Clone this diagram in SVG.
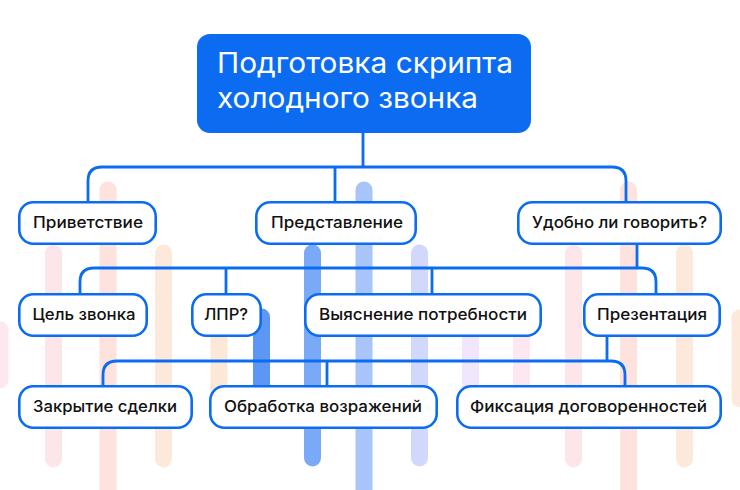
<svg xmlns="http://www.w3.org/2000/svg" width="740" height="490" viewBox="0 0 740 490">
  <style>
    .bar { stroke-width: 17; stroke-linecap: round; fill: none; }
    .box { fill: #ffffff; stroke: #0b6cf2; stroke-width: 2.6; }
    .lbl { font-family: Inter, "Liberation Sans", sans-serif; font-size: 16px; font-weight: 500; fill: #111111; text-anchor: middle; }
    .title { font-family: Inter, "Liberation Sans", sans-serif; font-size: 28px; fill: #ffffff; }
    .conn { fill: none; stroke: #0b6cf2; stroke-width: 2.8; }
  </style>
  <rect x="0" y="0" width="740" height="490" fill="#ffffff"/>
  <g id="background">
    <line class="bar" x1="0" y1="330" x2="0" y2="380" stroke="#fde7f0"/>
    <line class="bar" x1="53.5" y1="253" x2="53.5" y2="459" stroke="#fde6ea"/>
    <line class="bar" x1="108" y1="190" x2="108" y2="500" stroke="#fde2de"/>
    <line class="bar" x1="163.5" y1="253" x2="163.5" y2="459" stroke="#fde9dc"/>
    <line class="bar" x1="219" y1="310" x2="219" y2="415" stroke="#fde8d8"/>
    <line class="bar" x1="261.5" y1="317" x2="261.5" y2="415" stroke="#5e97f3"/>
    <line class="bar" x1="312.5" y1="253" x2="312.5" y2="458" stroke="#7aa9f7"/>
    <line class="bar" x1="364" y1="190" x2="364" y2="500" stroke="#a9c4f9"/>
    <line class="bar" x1="419.5" y1="253" x2="419.5" y2="458" stroke="#d2d8fb"/>
    <line class="bar" x1="470.5" y1="310" x2="470.5" y2="415" stroke="#f2e6fd"/>
    <line class="bar" x1="521.5" y1="310" x2="521.5" y2="415" stroke="#fde8f2"/>
    <line class="bar" x1="573.5" y1="253" x2="573.5" y2="459" stroke="#fde6ea"/>
    <line class="bar" x1="628.5" y1="190" x2="628.5" y2="500" stroke="#fde2de"/>
    <line class="bar" x1="684.5" y1="253" x2="684.5" y2="459" stroke="#fde9dc"/>
    <line class="bar" x1="740" y1="318" x2="740" y2="399" stroke="#fde9dc"/>
  </g>
  <g id="connectors">
    <path class="conn" d="M363 133 V167"/>
    <path class="conn" d="M88 202 V181 Q88 167 102 167 H612 Q626 167 626 181 V202"/>
    <path class="conn" d="M335 167 V202"/>
    <path class="conn" d="M637 245 V268"/>
    <path class="conn" d="M80 294 V282 Q80 268 94 268 H642 Q656 268 656 282 V294"/>
    <path class="conn" d="M226 268 V294"/>
    <path class="conn" d="M432 268 V294"/>
    <path class="conn" d="M607 337 V361"/>
    <path class="conn" d="M103 386 V375 Q103 361 117 361 H611 Q625 361 625 375 V386"/>
    <path class="conn" d="M327 361 V386"/>
  </g>
  <g id="root">
    <rect x="197" y="34" width="334" height="99" rx="13" fill="#0b6cf2"/>
    <text class="title" x="217" y="73" textLength="296" lengthAdjust="spacingAndGlyphs">Подготовка скрипта</text>
    <text class="title" x="217" y="108" textLength="261" lengthAdjust="spacingAndGlyphs">холодного звонка</text>
  </g>
  <g id="n-privetstvie">
    <rect class="box" x="19.3" y="202.3" width="136.4" height="41.4" rx="14"/>
    <text class="lbl" x="88" y="228" textLength="110" lengthAdjust="spacingAndGlyphs">Приветствие</text>
  </g>
  <g id="n-predstavlenie">
    <rect class="box" x="256.3" y="202.3" width="159.4" height="41.4" rx="14"/>
    <text class="lbl" x="337" y="228" textLength="132" lengthAdjust="spacingAndGlyphs">Представление</text>
  </g>
  <g id="n-udobno">
    <rect class="box" x="518.3" y="202.3" width="202.4" height="41.4" rx="14"/>
    <text class="lbl" x="619.5" y="228" textLength="175" lengthAdjust="spacingAndGlyphs">Удобно ли говорить?</text>
  </g>
  <g id="n-cel">
    <rect class="box" x="19.3" y="294.3" width="127.4" height="41.4" rx="14"/>
    <text class="lbl" x="84" y="320" textLength="103" lengthAdjust="spacingAndGlyphs">Цель звонка</text>
  </g>
  <g id="n-lpr">
    <rect class="box" x="192.3" y="294.3" width="68.4" height="41.4" rx="14"/>
    <text class="lbl" x="226" y="320" textLength="44" lengthAdjust="spacingAndGlyphs">ЛПР?</text>
  </g>
  <g id="n-vyyasnenie">
    <rect class="box" x="305.3" y="294.3" width="235.4" height="41.4" rx="14"/>
    <text class="lbl" x="423" y="320" textLength="208" lengthAdjust="spacingAndGlyphs">Выяснение потребности</text>
  </g>
  <g id="n-prezentaciya">
    <rect class="box" x="584.3" y="294.3" width="135.4" height="41.4" rx="14"/>
    <text class="lbl" x="652" y="320" textLength="110" lengthAdjust="spacingAndGlyphs">Презентация</text>
  </g>
  <g id="n-zakrytie">
    <rect class="box" x="19.3" y="386.3" width="172.4" height="41.4" rx="14"/>
    <text class="lbl" x="105" y="412" textLength="144" lengthAdjust="spacingAndGlyphs">Закрытие сделки</text>
  </g>
  <g id="n-obrabotka">
    <rect class="box" x="210.3" y="386.3" width="226.4" height="41.4" rx="14"/>
    <text class="lbl" x="323" y="412" textLength="198" lengthAdjust="spacingAndGlyphs">Обработка возражений</text>
  </g>
  <g id="n-fiksaciya">
    <rect class="box" x="457.3" y="386.3" width="263.4" height="41.4" rx="14"/>
    <text class="lbl" x="588.5" y="412" textLength="237" lengthAdjust="spacingAndGlyphs">Фиксация договоренностей</text>
  </g>
</svg>
